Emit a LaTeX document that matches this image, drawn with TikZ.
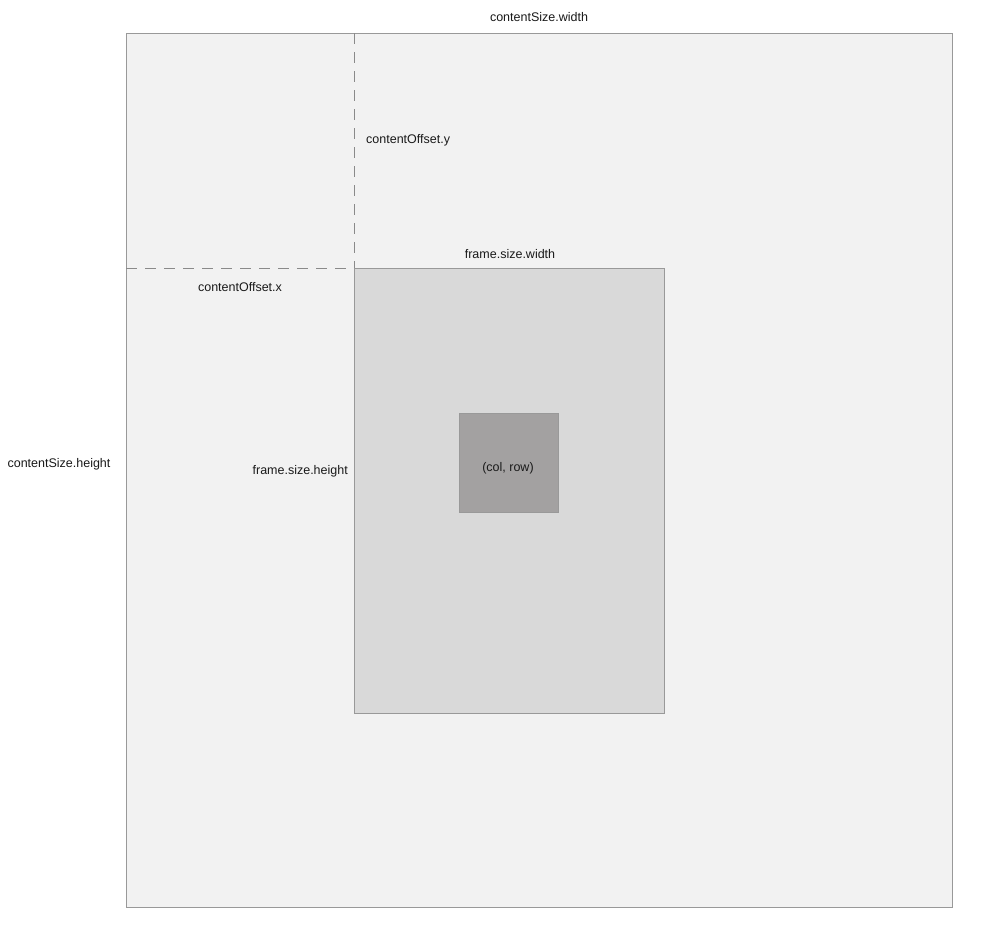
\documentclass[tikz,border=0pt]{standalone}
\usepackage{fontspec}
\setmainfont{Liberation Sans}
\definecolor{outerfill}{HTML}{F2F2F2}
\definecolor{framefill}{HTML}{D9D9D9}
\definecolor{cellfill}{HTML}{A3A1A1}
\definecolor{edge}{HTML}{999999}
\definecolor{dashc}{HTML}{8A8A8A}
\definecolor{txt}{HTML}{1A1A1A}
\begin{document}
\begin{tikzpicture}[x=1pt,y=-1pt,
  lbl/.style={font=\fontsize{12.5}{14}\selectfont,text=txt,inner sep=0pt},
  box/.style={draw=edge,line width=0.8pt},
  guide/.style={draw=dashc,line width=0.8pt,dash pattern=on 11pt off 8pt}]
\useasboundingbox (0,0) rectangle (993,945);
\fill[white] (0,0) rectangle (993,945);
\path[box,fill=outerfill] (126,33) rectangle (952,907);
\coordinate (outerTop) at (354,33);
\coordinate (outerLeft) at (126,268);
\coordinate (frameTL) at (354,268);
\draw[guide] (outerTop) -- (frameTL);
\draw[guide] (outerLeft) -- (frameTL);
\path[box,fill=framefill] (354,268) rectangle (664,713);
\path[box,fill=cellfill] (459,413) rectangle (558,512);
\node[lbl] (csw) at (539,17) {contentSize.width};
\node[lbl,anchor=west] (coy) at (366,140.5) {contentOffset.y};
\node[lbl] (fsw) at (510,254.5) {frame.size.width};
\node[lbl] (cox) at (240,287.5) {contentOffset.x};
\node[lbl] (csh) at (59,464) {contentSize.height};
\node[lbl,anchor=east] (fsh) at (348,471.5) {frame.size.height};
\node[lbl] (cell) at (508,468.5) {(col, row)};
\end{tikzpicture}
\end{document}
